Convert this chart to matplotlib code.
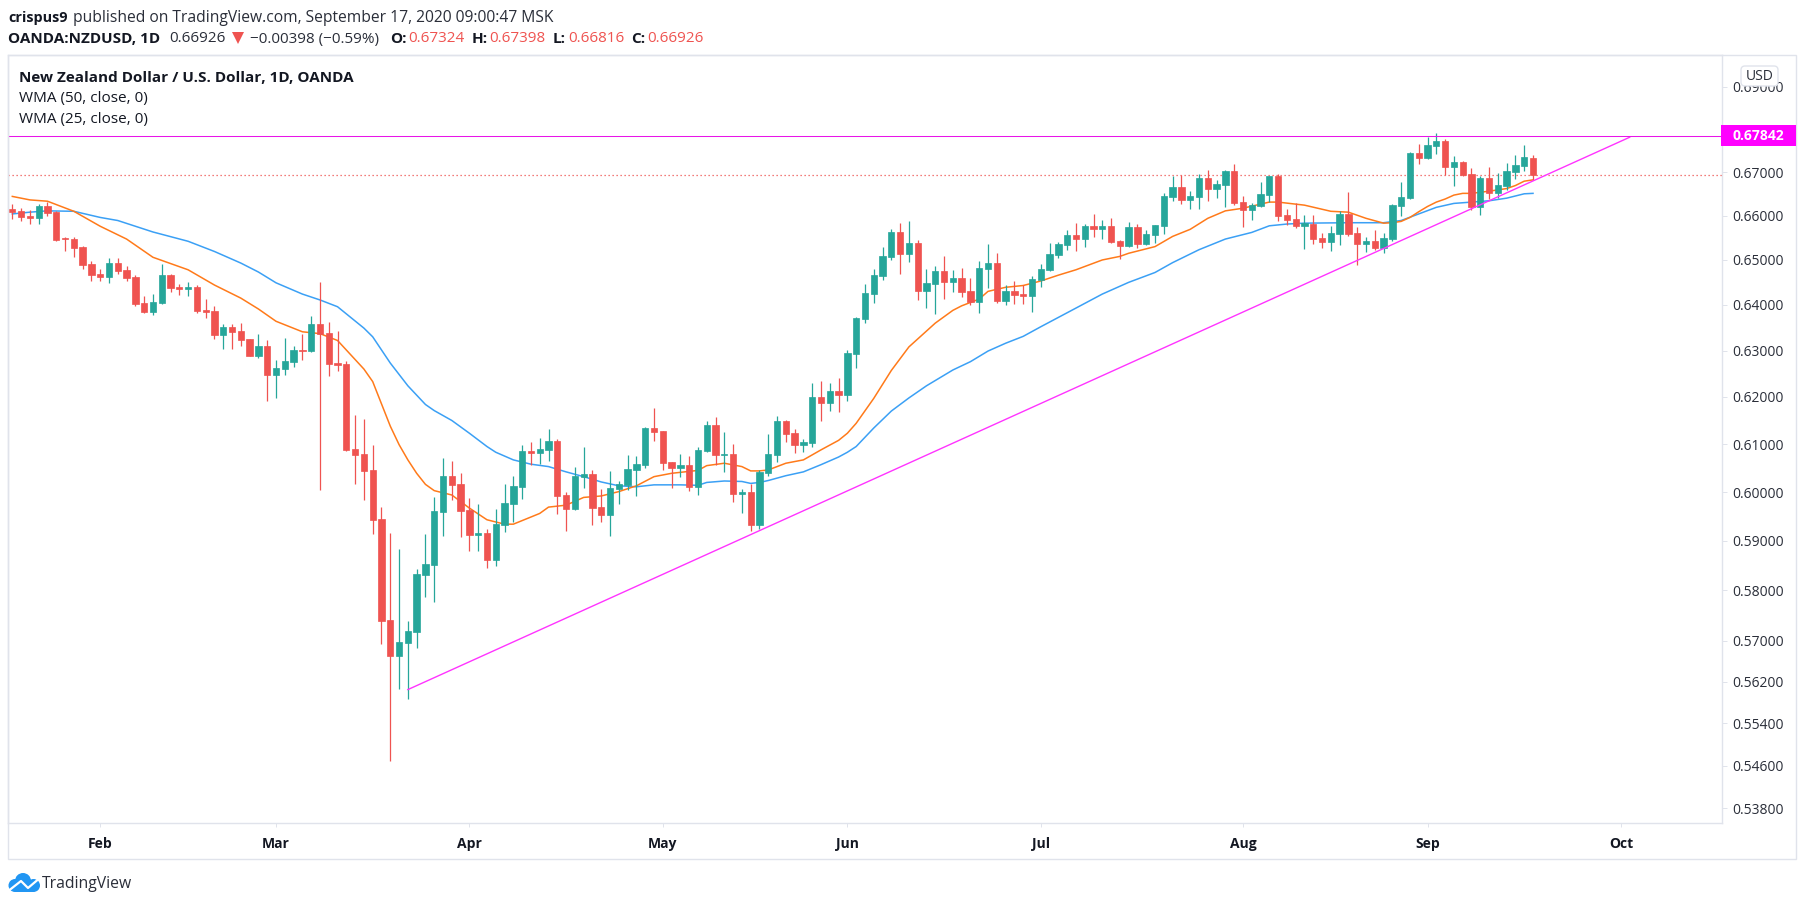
"""NZD/USD daily candles with WMAs, redrawn from a TradingView snapshot"""

import matplotlib
matplotlib.use('Agg')
from matplotlib import pyplot as plt
from matplotlib.patches import Circle, FancyBboxPatch, Polygon, Rectangle
from matplotlib.ticker import FormatStrFormatter, NullLocator

# one value per trading day, counted from Jan 20 2020
opens = [
    .6616, .6611, .6600, .6595, .6623, .6609, .6549, .6548, .6530, .6491,
    .6469, .6462, .6493, .6478, .6462, .6404, .6385, .6404, .6467, .6440,
    .6436, .6440, .6389, .6387, .6333, .6352, .6343, .6326, .6289, .6309,
    .6248, .6261, .6276, .6302, .6300, .6358, .6339, .6274, .6271, .6090,
    .6080, .6046, .5945, .5742, .5671, .5696, .5718, .5830, .5852, .5959,
    .6034, .6017, .5963, .5912, .5916, .5862, .5933, .5976, .6010, .6086,
    .6082, .6088, .6107, .5994, .5965, .6031, .6038, .5969, .5953, .6006,
    .6015, .6046, .6057, .6135, .6128, .6063, .6050, .6057, .6010, .6086,
    .6141, .6078, .6080, .5996, .6000, .5933, .6040, .6078, .6149, .6124,
    .6099, .6103, .6200, .6187, .6213, .6204, .6293, .6369, .6424, .6464,
    .6507, .6563, .6514, .6538, .6431, .6447, .6476, .6451, .6460, .6431,
    .6407, .6480, .6493, .6409, .6431, .6424, .6420, .6456, .6478, .6511,
    .6534, .6556, .6547, .6577, .6570, .6577, .6543, .6532, .6574, .6536,
    .6556, .6577, .6643, .6666, .6636, .6643, .6686, .6661, .6670, .6702,
    .6631, .6613, .6622, .6647, .6691, .6602, .6592, .6577, .6581, .6550,
    .6541, .6559, .6604, .6561, .6536, .6543, .6527, .6547, .6622, .6640,
    .6744, .6733, .6760, .6772, .6712, .6723, .6695, .6620, .6686, .6652,
    .6668, .6700, .6714, .67324,
]
highs = [
    .6627, .6618, .6614, .6627, .6632, .6611, .6552, .6552, .6532, .6498,
    .6480, .6505, .6505, .6487, .6467, .6420, .6424, .6491, .6469, .6447,
    .6451, .6444, .6413, .6398, .6359, .6359, .6361, .6326, .6337, .6322,
    .6280, .6328, .6309, .6337, .6376, .6450, .6363, .6343, .6278, .6162,
    .6154, .6099, .5969, .5916, .5884, .5740, .5842, .5914, .5990, .6071,
    .6065, .6040, .5988, .5976, .5924, .5965, .6017, .6034, .6099, .6105,
    .6113, .6133, .6111, .6000, .6052, .6094, .6046, .6006, .6044, .6023,
    .6078, .6076, .6137, .6177, .6128, .6063, .6080, .6076, .6094, .6149,
    .6158, .6126, .6101, .6006, .6017, .6046, .6122, .6160, .6151, .6132,
    .6111, .6230, .6234, .6230, .6241, .6301, .6374, .6447, .6480, .6529,
    .6570, .6583, .6588, .6545, .6480, .6487, .6509, .6478, .6482, .6460,
    .6498, .6536, .6516, .6444, .6453, .6444, .6464, .6491, .6538, .6541,
    .6568, .6583, .6581, .6604, .6590, .6595, .6545, .6586, .6581, .6568,
    .6579, .6652, .6691, .6693, .6656, .6695, .6705, .6682, .6705, .6718,
    .6645, .6629, .6677, .6691, .6695, .6615, .6629, .6602, .6602, .6561,
    .6577, .6611, .6654, .6574, .6552, .6568, .6561, .6627, .6677, .6746,
    .6765, .6781, .6791, .6777, .6737, .6726, .6709, .6691, .6712, .6698,
    .6721, .6740, .6763, .67398,
]
lows = [
    .6593, .6589, .6582, .6582, .6600, .6543, .6520, .6507, .6480, .6453,
    .6453, .6449, .6469, .6453, .6398, .6383, .6378, .6402, .6429, .6422,
    .6420, .6383, .6372, .6325, .6304, .6304, .6311, .6288, .6285, .6191,
    .6198, .6248, .6265, .6280, .6296, .6004, .6244, .6256, .6086, .6017,
    .5984, .5914, .5694, .5469, .5607, .5586, .5686, .5787, .5777, .5910,
    .5984, .5908, .5880, .5880, .5844, .5850, .5918, .5939, .5986, .6057,
    .6059, .6065, .5955, .5920, .5963, .6008, .5933, .5939, .5910, .5976,
    .6004, .5992, .6050, .6107, .6046, .6008, .6031, .6002, .5994, .6084,
    .6057, .6042, .5980, .5957, .5920, .5925, .6034, .6063, .6105, .6082,
    .6084, .6094, .6149, .6170, .6168, .6192, .6263, .6361, .6404, .6456,
    .6500, .6469, .6496, .6411, .6393, .6380, .6413, .6429, .6418, .6400,
    .6382, .6438, .6404, .6400, .6402, .6402, .6385, .6440, .6476, .6505,
    .6523, .6520, .6529, .6552, .6547, .6538, .6502, .6529, .6527, .6534,
    .6538, .6559, .6634, .6627, .6615, .6615, .6634, .6640, .6620, .6624,
    .6574, .6590, .6620, .6631, .6588, .6579, .6572, .6525, .6536, .6527,
    .6520, .6534, .6554, .6489, .6518, .6523, .6516, .6543, .6600, .6638,
    .6719, .6730, .6742, .6693, .6668, .6691, .6613, .6602, .6638, .6640,
    .6659, .6684, .6702, .66816,
]
closes = [
    .6609, .6598, .6595, .6623, .6607, .6545, .6548, .6527, .6489, .6467,
    .6462, .6493, .6476, .6460, .6402, .6385, .6407, .6467, .6438, .6436,
    .6440, .6387, .6385, .6333, .6352, .6341, .6324, .6289, .6309, .6248,
    .6263, .6278, .6302, .6300, .6359, .6336, .6271, .6269, .6088, .6078,
    .6044, .5943, .5740, .5671, .5698, .5720, .5832, .5854, .5961, .6034,
    .6015, .5961, .5912, .5916, .5862, .5935, .5978, .6013, .6086, .6082,
    .6090, .6107, .5992, .5965, .6034, .6038, .5967, .5953, .6008, .6017,
    .6048, .6059, .6135, .6126, .6061, .6050, .6057, .6010, .6088, .6141,
    .6078, .6080, .5996, .6000, .5933, .6042, .6080, .6149, .6122, .6099,
    .6105, .6200, .6187, .6213, .6204, .6295, .6372, .6427, .6467, .6509,
    .6563, .6514, .6538, .6431, .6449, .6476, .6451, .6460, .6429, .6407,
    .6482, .6493, .6409, .6431, .6422, .6420, .6458, .6480, .6514, .6536,
    .6556, .6547, .6577, .6570, .6577, .6541, .6532, .6574, .6536, .6559,
    .6579, .6645, .6666, .6636, .6645, .6686, .6661, .6673, .6702, .6629,
    .6613, .6624, .6650, .6691, .6599, .6590, .6577, .6583, .6547, .6541,
    .6561, .6604, .6559, .6536, .6543, .6527, .6550, .6624, .6643, .6744,
    .6733, .6763, .6772, .6712, .6723, .6693, .6620, .6686, .6652, .6670,
    .6702, .6716, .6735, .66926,
]

# WMA lines at their visible bends
wma25_days = [
    0, 2, 4, 7, 10, 13, 16, 20, 23, 26, 28, 30, 33, 35, 37, 40, 41, 43, 44, 45,
    46, 47, 48, 50, 52, 54, 56, 57, 60, 61, 63, 65, 67, 69, 71, 73, 75, 76, 78,
    79, 81, 83, 84, 85, 86, 88, 90, 92, 94, 95, 96, 98, 100, 102, 105, 107, 108,
    110, 111, 113, 115, 117, 119, 121, 124, 126, 127, 130, 132, 134, 136, 138,
    140, 143, 144, 147, 150, 152, 154, 156, 157, 158, 159, 160, 161, 162, 163,
    164, 165, 166, 168, 170, 171, 172, 173,
]
wma25_values = [
    .6644, .6636, .6633, .6610, .6576, .6547, .6506, .6478, .6444, .6415, .6391,
    .6364, .6341, .6337, .6322, .6260, .6233, .6138, .6099, .6067, .6039, .6016,
    .6003, .5994, .5967, .5943, .5934, .5934, .5956, .5969, .5973, .5989, .5992,
    .6001, .6013, .6032, .6039, .6041, .6045, .6055, .6060, .6053, .6044, .6044,
    .6046, .6060, .6067, .6088, .6108, .6123, .6144, .6197, .6257, .6308, .6360,
    .6388, .6398, .6413, .6430, .6439, .6443, .6453, .6466, .6478, .6500, .6508,
    .6515, .6530, .6553, .6569, .6594, .6611, .6617, .6631, .6631, .6624, .6610,
    .6608, .6594, .6583, .6584, .6587, .6596, .6609, .6621, .6631, .6638, .6647,
    .6651, .6651, .6656, .6662, .6669, .6679, .6682,
]
wma50_days = [
    0, 2, 4, 7, 10, 12, 16, 20, 23, 26, 28, 30, 33, 35, 37, 40, 41, 43, 45, 47,
    48, 50, 52, 54, 55, 57, 59, 61, 63, 65, 67, 69, 71, 73, 76, 78, 79, 81, 83,
    84, 85, 86, 88, 90, 92, 94, 95, 96, 98, 100, 102, 104, 107, 109, 111, 113,
    115, 117, 121, 124, 127, 130, 132, 135, 138, 141, 143, 145, 147, 152, 156,
    158, 160, 162, 164, 166, 168, 170, 172, 173,
]
wma50_values = [
    .6604, .6608, .6611, .6610, .6596, .6589, .6563, .6542, .6519, .6493, .6473,
    .6449, .6424, .6411, .6396, .6349, .6330, .6273, .6224, .6184, .6171, .6150,
    .6123, .6095, .6083, .6067, .6058, .6053, .6042, .6032, .6021, .6013, .6011,
    .6015, .6015, .6014, .6020, .6023, .6022, .6018, .6020, .6024, .6034, .6042,
    .6057, .6073, .6083, .6095, .6134, .6170, .6198, .6224, .6258, .6276, .6299,
    .6316, .6331, .6352, .6393, .6424, .6450, .6472, .6494, .6523, .6547, .6562,
    .6577, .6581, .6583, .6584, .6584, .6589, .6604, .6619, .6628, .6631, .6634,
    .6640, .6650, .6651,
]

trend_days = [45, 184]
trend_values = [.5605, .6781]
resistance = .67842
last_close = .66926

month_days = [10, 30, 52, 74, 95, 117, 140, 161, 183]
month_labels = ['Feb', 'Mar', 'Apr', 'May', 'Jun', 'Jul', 'Aug', 'Sep', 'Oct']
price_ticks = [.69, .68, .67, .66, .65, .64, .63, .62, .61, .60, .59, .58, .57,
               .562, .554, .546, .538]

GREEN = '#26a69a'
RED = '#ef5350'
BORDER = '#e0e3eb'
INK = '#131722'
FONT = 'Open Sans'
W, H = 1805, 906


def draw_candles(ax):
    """Wicks first, then bodies on top"""

    days = list(range(len(opens)))
    colors = [GREEN if c >= o else RED for o, c in zip(opens, closes)]
    ax.vlines(days, lows, highs, colors=colors, linewidth=0.9, zorder=3)
    bottoms = [min(o, c) for o, c in zip(opens, closes)]
    heights = [abs(o - c) for o, c in zip(opens, closes)]
    ax.bar(days, heights, bottom=bottoms, width=0.72, color=colors, edgecolor=colors,
           linewidth=0.5, zorder=3)


def put_text(overlay, pieces, y, size=11):
    """Places (x, text, color, weight) pieces along one header line"""

    for x, text, color, weight in pieces:
        overlay.text(x, y, text, color=color, fontweight=weight, fontsize=size, va='center',
                     family=FONT)


def draw_logo(overlay):
    """TradingView cloud, roughly"""

    blue = '#2196f3'
    overlay.add_patch(Circle((15, 885.5), 6.5, color=blue, lw=0))
    overlay.add_patch(Circle((23, 881), 8, color=blue, lw=0))
    overlay.add_patch(Circle((33.5, 885.5), 6.5, color=blue, lw=0))
    overlay.add_patch(Polygon([(15, 892), (15, 882), (34, 882), (34, 892)], color=blue, lw=0))
    overlay.plot([7, 21, 28, 41], [892, 881, 888, 877], color='white', lw=1.6)


def main():
    """Main method"""

    fig = plt.figure(figsize=(W / 100, H / 100), dpi=100)
    ax = fig.add_axes([8 / W, 1 - 823 / H, (1722 - 8) / W, (823 - 55) / H])

    draw_candles(ax)
    ax.plot(wma50_days, wma50_values, color='#3ba0f5', lw=1.1, zorder=2)
    ax.plot(wma25_days, wma25_values, color='#ff7a1a', lw=1.1, zorder=2)
    ax.plot(trend_days, trend_values, color='#ff33ff', lw=1.0, zorder=4)
    ax.axhline(resistance, color='#e815e8', lw=0.75, zorder=4)
    ax.axhline(last_close, color=RED, lw=0.9, linestyle=(0, (1, 2.2)), zorder=1)

    ax.set_yscale('log')
    ax.set_xlim(-0.49, 194.5)
    ax.set_ylim(.5353, .6976)
    ax.yaxis.tick_right()
    ax.set_yticks(price_ticks)
    ax.yaxis.set_minor_locator(NullLocator())
    ax.yaxis.set_major_formatter(FormatStrFormatter('%.5f'))
    ax.set_xticks(month_days)
    ax.set_xticklabels(month_labels, fontweight='bold', family=FONT, fontsize=10, color=INK)
    for label in ax.get_yticklabels():
        label.set_family(FONT)
    ax.tick_params(axis='y', length=3.6, width=0.7, color=BORDER, pad=4, labelsize=10,
                   labelcolor='#2a2e39')
    ax.tick_params(axis='x', length=3.2, width=0.7, color=BORDER, pad=7)
    for spine in ax.spines.values():
        spine.set_color(BORDER)
        spine.set_linewidth(1.0)

    # pixel overlay for the header, legend, price tag and logo
    overlay = fig.add_axes([0, 0, 1, 1], zorder=5)
    overlay.set_xlim(0, W)
    overlay.set_ylim(H, 0)
    overlay.axis('off')
    overlay.add_patch(Rectangle((8, 55), 1788, 804, fill=False, edgecolor=BORDER, lw=1.0))

    put_text(overlay, [(8, 'crispus9', INK, 'bold')], 18, size=10.4)
    put_text(overlay, [(73, 'published on TradingView.com, September 17, 2020 09:00:47 MSK', '#2a2e39', 'normal')],
             18, size=11.25)
    put_text(overlay, [(8, 'OANDA:NZDUSD, 1D', INK, 'bold'),
                       (169, '0.66926', '#2a2e39', 'normal'),
                       (250, '\u22120.00398 (\u22120.59%)', '#2a2e39', 'normal'),
                       (390, 'O:', INK, 'bold'), (408, '0.67324', RED, 'normal'),
                       (472, 'H:', INK, 'bold'), (489, '0.67398', RED, 'normal'),
                       (553, 'L:', INK, 'bold'), (568, '0.66816', RED, 'normal'),
                       (631, 'C:', INK, 'bold'), (647, '0.66926', RED, 'normal')], 39)
    overlay.add_patch(Polygon([(232, 32), (244, 32), (238, 44)], color=RED, lw=0))

    put_text(overlay, [(19, 'New Zealand Dollar / U.S. Dollar, 1D, OANDA', INK, 'bold')], 77.5)
    put_text(overlay, [(19, 'WMA (50, close, 0)', INK, 'normal')], 98.5)
    put_text(overlay, [(19, 'WMA (25, close, 0)', INK, 'normal')], 119.5)

    # magenta tag sits on the price axis at the resistance level
    tag_y = H - ax.transData.transform((0, resistance))[1]
    overlay.add_patch(Rectangle((1721, tag_y - 10.5), 75, 21, color='#ff00ff', lw=0))
    overlay.text(1758.5, tag_y, f'{resistance:.5f}', color='white', fontweight='bold', fontsize=10,
                 ha='center', va='center', family=FONT)

    overlay.add_patch(FancyBboxPatch((1741, 66), 37, 20, boxstyle='round,pad=0,rounding_size=4',
                                     facecolor='white', edgecolor=BORDER, lw=1.0))
    overlay.text(1759.5, 76, 'USD', color='#2a2e39', fontsize=10, ha='center', va='center', family=FONT)

    draw_logo(overlay)
    overlay.text(42, 884, 'TradingView', color='#2a2e39', fontsize=11.3, va='center', family=FONT)

    fig.savefig('out.png', dpi=100)


if __name__ == '__main__':
    main()
